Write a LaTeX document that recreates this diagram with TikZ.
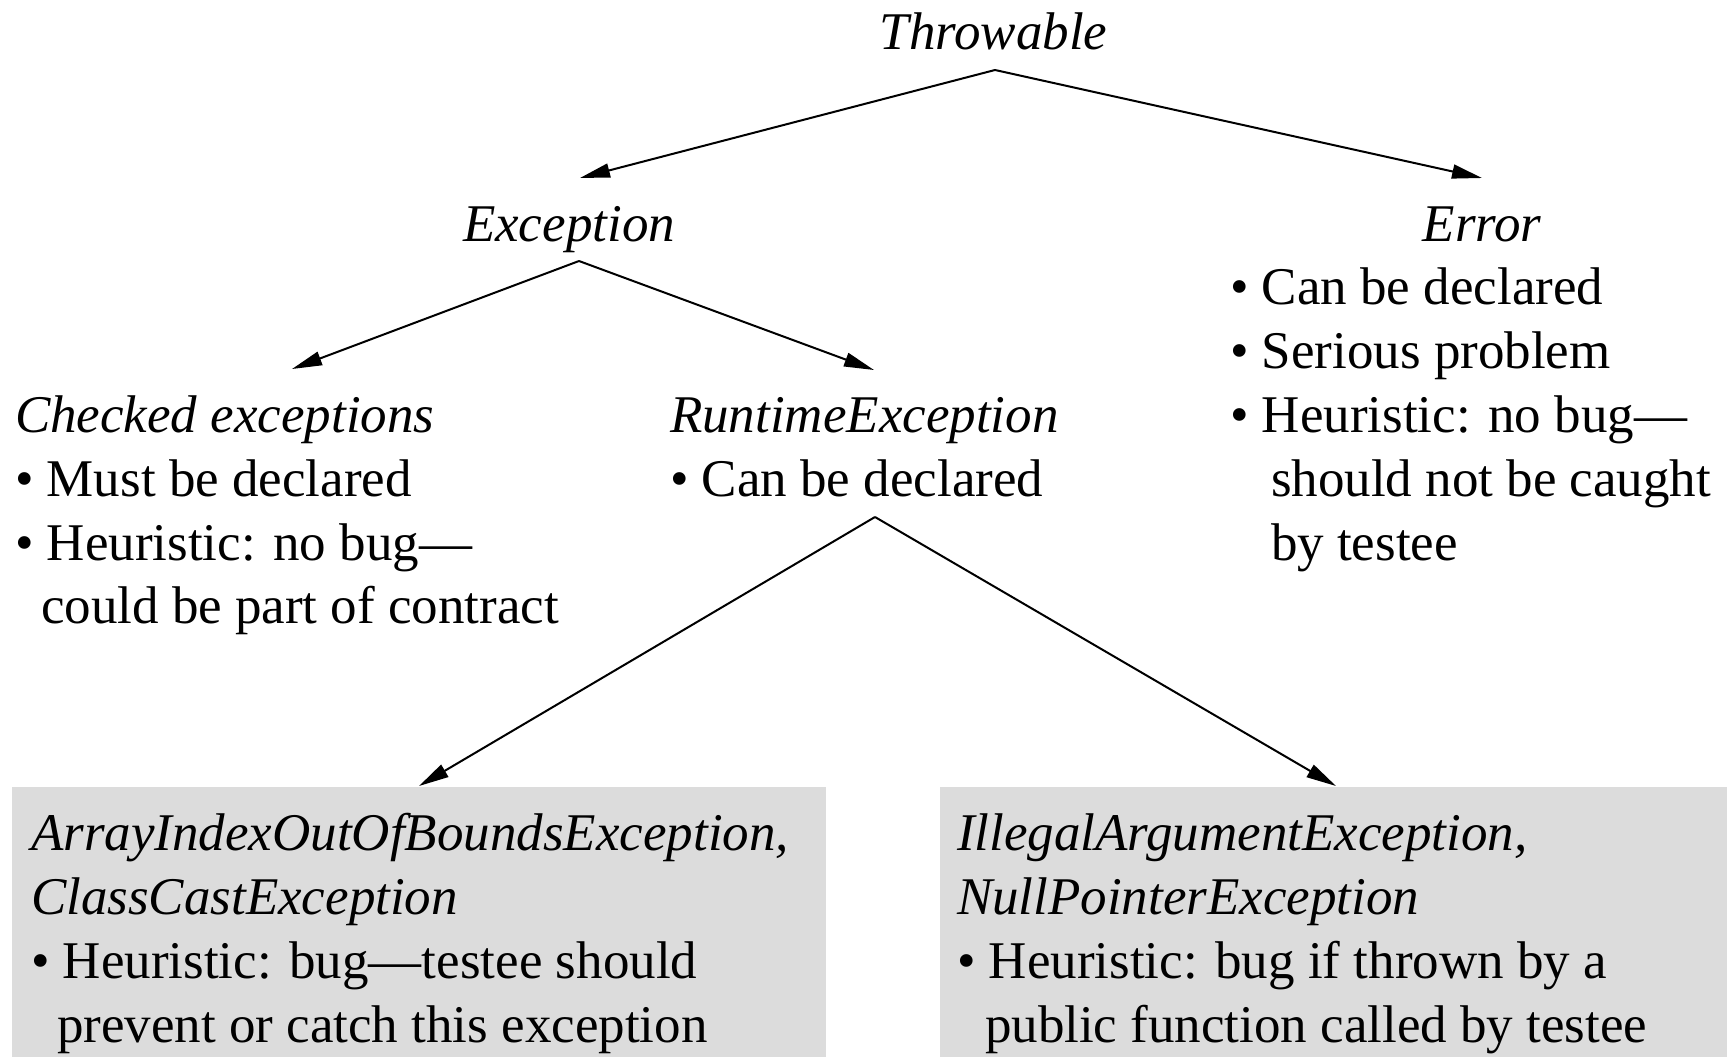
\documentclass[tikz,border=0pt]{standalone}
\usepackage{fontspec}
\setmainfont{Liberation Serif}
\usetikzlibrary{arrows.meta,calc}
\definecolor{boxgrey}{RGB}{220,220,220}
\newcommand{\labelsize}{\fontsize{53}{64}\selectfont}
\tikzset{
  line/.style={inner sep=0pt, outer sep=0pt, anchor=base west, font=\labelsize},
  head/.style={inner sep=0pt, outer sep=0pt, anchor=base, font=\labelsize\itshape},
  headl/.style={line, font=\labelsize\itshape},
  greybox/.style={fill=boxgrey, draw=none, inner sep=0pt, anchor=north west},
  link/.style={line width=2pt, -{Triangle[length=30pt,width=14pt]}},
}
\begin{document}
\begin{tikzpicture}[x=1pt, y=-1pt]
\useasboundingbox (0,0) rectangle (1727,1057);

% shaded boxes for the two runtime subclasses
\node[greybox, minimum width=814pt, minimum height=270pt] (boxA) at (12,787) {};
\node[greybox, minimum width=787pt, minimum height=270pt] (boxB) at (940,787) {};

% class names
\node[head] (throwable) at (993.5,49) {Throwable};
\node[head] (exception) at (569,241) {Exception};
\node[head] (error) at (1482,241) {Error};

% Error notes
\node[line] (er1) at (1230,304) {\textbullet{} Can be declared};
\node[line] (er2) at (1230,368) {\textbullet{} Serious problem};
\node[line] (er3) at (1230,432) {\textbullet{} Heuristic: no bug—};
\node[line] (er4) at (1271,496) {should not be caught};
\node[line] (er5) at (1271,560) {by testee};

% checked exceptions
\node[headl] (checked) at (15,432) {Checked exceptions};
\node[line] (ck1) at (15,496) {\textbullet{} Must be declared};
\node[line] (ck2) at (15,560) {\textbullet{} Heuristic: no bug—};
\node[line] (ck3) at (41,623) {could be part of contract};

% runtime exceptions
\node[headl] (runtime) at (670,432) {RuntimeException};
\node[line] (rt1) at (670,496) {\textbullet{} Can be declared};

% left shaded box contents
\node[headl] (a1) at (31,850) {ArrayIndexOutOfBoundsException,};
\node[headl] (a2) at (31,914) {ClassCastException};
\node[line] (a3) at (31,978) {\textbullet{} Heuristic: bug—testee should};
\node[line] (a4) at (57,1042) {prevent or catch this exception};

% right shaded box contents
\node[headl] (b1) at (957,850) {IllegalArgumentException,};
\node[headl] (b2) at (957,914) {NullPointerException};
\node[line] (b3) at (957,978) {\textbullet{} Heuristic: bug if thrown by a};
\node[line] (b4) at (985,1042) {public function called by testee};

% hierarchy arrows
\draw[link] ($(throwable.base)+(1.5,21)$) -- ($(exception.base)+(11,-63)$);
\draw[link] ($(throwable.base)+(1.5,21)$) -- ($(error.base)+(0,-63)$);
\draw[link] ($(exception.base)+(10,20)$) -- ($(checked.base west)+(277,-63)$);
\draw[link] ($(exception.base)+(10,20)$) -- ($(runtime.base west)+(204,-62)$);
\draw[link] ($(rt1.base west)+(205,21)$) -- ($(boxA.north west)+(407,-1)$);
\draw[link] ($(rt1.base west)+(205,21)$) -- ($(boxB.north west)+(396,-1)$);
\end{tikzpicture}
\end{document}
